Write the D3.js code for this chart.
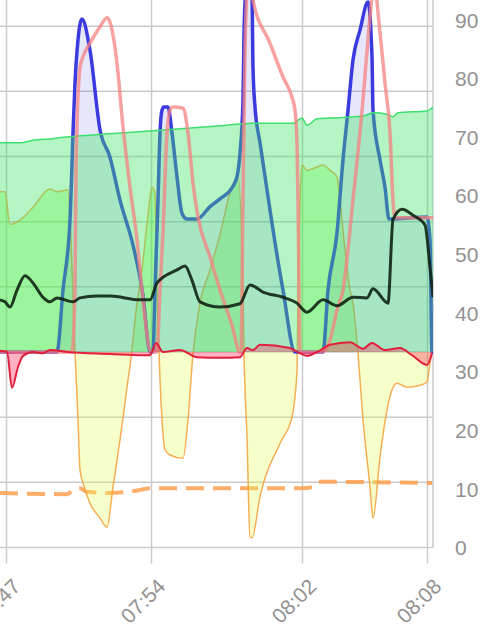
<!DOCTYPE html>
<html>
<head>
<meta charset="utf-8">
<script src="https://cdn.jsdelivr.net/npm/d3@7"></script>
<style>
  body { margin: 0; background: #fff; }
  svg { display: block; }
  .tick text { font-family: "Liberation Sans", Arial, Helvetica, sans-serif; font-size: 21px; fill: #929292; }
</style>
</head>
<body>
<svg id="chart" width="496" height="642"></svg>
<script>
// values, [time, value]
// left (hidden) scale for the filled series, right scale for the dashed one
var blueSeries = [
  ["07:46:42",0],["07:49:33",0],["07:49:51",9.5],["07:50:12",20.3],["07:50:21",33.6],["07:50:27",41.3],
  ["07:50:36",47.9],["07:50:48",51.1],["07:51:12",46.3],["07:51:42",34.1],["07:52:12",29.9],["07:52:42",23.3],
  ["07:53:21",16.4],["07:53:51",8.7],["07:54:12",0],["07:54:21",0],["07:54:27",9.5],["07:54:36",23.3],
  ["07:54:42",33.6],["07:54:48",37.1],["07:54:54",37.6],["07:55:06",37.6],["07:55:18",33.6],["07:55:33",26.9],
  ["07:55:48",21.3],["07:56:03",20.4],["07:56:33",20.4],["07:57:12",22.3],["07:57:42",23.5],["07:58:18",25.2],
  ["07:58:33",26.9],["07:58:42",30.5],["07:58:51",38.7],["07:58:54",49.0],["07:59:00",55.5],["07:59:12",56.3],
  ["07:59:18",54.8],["07:59:21",43.7],["07:59:27",37.6],["07:59:42",32.1],["08:00:12",21.8],["08:00:42",12.1],
  ["08:00:51",9.5],["08:01:27",0],["08:02:51",0],["08:03:06",9.5],["08:03:33",18.3],["08:03:51",29.5],
  ["08:04:06",37.1],["08:04:21",44.8],["08:04:42",49.4],["08:05:06",53.7],["08:05:18",45.3],["08:05:21",37.1],
  ["08:05:42",29.5],["08:05:57",25.3],["08:06:09",20.4],["08:08:03",20.7],["08:08:12",17.2],["08:08:18",0],
  ["08:08:21",0]
];

var pinkSeries = [
  ["07:46:42",0],["07:50:18",0],["07:50:27",9.5],["07:50:30",28.4],["07:50:42",43.7],["07:50:51",45.3],
  ["07:51:12",47.4],["07:51:42",49.9],["07:52:03",51.3],["07:52:12",50.6],["07:52:33",44.3],["07:52:51",34.5],
  ["07:53:12",25.3],["07:53:33",17.2],["07:53:48",9.5],["07:54:15",0],["07:54:33",0],["07:54:42",9.5],
  ["07:54:51",18.3],["07:55:03",33.6],["07:55:12",37.1],["07:55:21",37.6],["07:55:51",37.4],["07:56:06",33.6],
  ["07:56:21",25.9],["07:56:36",20.7],["07:57:12",14.6],["07:57:42",9.5],["07:58:18",4.1],["07:58:42",0],
  ["07:58:45",0],["07:58:51",23.3],["07:58:57",46.3],["07:59:06",57.1],["07:59:12",57.9],["07:59:21",54.0],
  ["08:00:12",47.4],["08:00:51",42.2],["08:01:18",39.1],["08:01:27",37.1],["08:01:33",32.1],["08:01:36",23.3],
  ["08:01:39",9.5],["08:01:42",0],["08:02:48",0],["08:03:12",1.8],["08:03:33",6.4],["08:03:51",9.5],
  ["08:04:21",23.3],["08:04:51",38.7],["08:05:12",51.4],["08:05:24",56.3],["08:05:42",49.0],["08:05:57",41.3],
  ["08:06:12",33.6],["08:06:21",23.3],["08:06:27",20.6],["08:08:21",20.6]
];

var greenSeries = [
  ["07:46:42",32.1],["07:47:42",32.1],["07:48:21",32.5],["07:49:12",32.7],["07:50:03",33.0],["07:52:12",33.5],
  ["07:54:12",33.9],["07:57:42",34.7],["07:59:21",35.1],["08:01:21",35.1],["08:01:48",35.9],["08:02:03",34.8],
  ["08:02:33",35.8],["08:03:12",35.9],["08:04:51",36.2],["08:05:21",36.7],["08:06:03",36.5],["08:06:21",36.1],
  ["08:06:36",36.7],["08:08:03",37.0],["08:08:21",37.6]
];

var yellowSeries = [
  ["07:46:42",24.6],["07:46:57",24.6],["07:47:12",19.6],["07:47:27",19.8],["07:47:51",20.6],["07:48:21",22.2],
  ["07:49:12",25.0],["07:49:33",24.6],["07:50:06",24.9],["07:50:15",17.2],["07:50:27",0],["07:50:36",-10.4],
  ["07:50:42",-18.1],["07:50:51",-20.1],["07:51:12",-23.2],["07:51:42",-25.5],["07:52:03",-26.9],["07:52:21",-20.7],
  ["07:52:42",-13.5],["07:53:03",-5.4],["07:53:18",0.3],["07:53:27",4.9],["07:53:51",14.1],["07:54:06",21.0],
  ["07:54:18",25.3],["07:54:27",24.4],["07:54:33",9.5],["07:54:39",0],["07:54:48",-10.4],["07:54:57",-15.0],
  ["07:55:12",-15.8],["07:55:51",-16.3],["07:56:06",-10.4],["07:56:21",-0.2],["07:56:42",7.5],["07:57:12",12.6],
  ["07:57:42",18.0],["07:58:12",24.4],["07:58:36",26.9],["07:58:51",9.5],["07:58:54",0],["07:59:03",-13.0],
  ["07:59:12",-28.4],["07:59:18",-28.5],["07:59:42",-22.2],["08:00:42",-14.0],["08:01:18",-10.0],["08:01:33",-2.8],
  ["08:01:36",9.5],["08:01:42",23.3],["08:01:48",28.7],["08:02:03",27.9],["08:02:33",28.4],["08:02:51",28.7],
  ["08:03:12",27.9],["08:03:33",26.9],["08:03:42",23.3],["08:03:57",15.7],["08:04:12",9.5],["08:04:21",7.5],
  ["08:04:36",-0.2],["08:04:51",-10.4],["08:05:12",-20.7],["08:05:21",-25.5],["08:05:42",-16.1],["08:06:03",-8.9],
  ["08:06:18",-5.8],["08:06:33",-4.8],["08:07:03",-5.4],["08:07:42",-5.1],["08:08:03",-4.6],["08:08:12",-1.7],
  ["08:08:18",0]
];

var blackSeries = [
  ["07:46:42",8.0],["07:46:57",7.7],["07:47:12",6.9],["07:47:33",9.5],["07:47:57",11.7],["07:48:21",10.6],
  ["07:48:51",8.4],["07:49:12",7.7],["07:49:33",8.3],["07:50:21",7.7],["07:50:42",8.3],["07:51:33",8.6],
  ["07:52:12",8.6],["07:53:42",8.0],["07:54:12",8.0],["07:54:33",10.6],["07:55:33",12.6],["07:55:57",13.2],
  ["07:56:18",11.0],["07:56:42",7.7],["07:57:42",6.9],["07:58:42",7.4],["07:59:12",10.3],["07:59:51",9.2],
  ["08:00:51",8.4],["08:01:33",7.5],["08:02:03",6.1],["08:02:51",8.0],["08:03:33",7.1],["08:04:21",8.4],
  ["08:05:03",8.3],["08:05:21",9.7],["08:06:06",7.5],["08:06:21",20.3],["08:06:48",21.9],["08:07:21",21.0],
  ["08:07:57",19.5],["08:08:12",13.0],["08:08:21",8.4]
];

var redSeries = [
  ["07:46:42",0.2],["07:47:03",0],["07:47:18",-5.5],["07:47:36",-2.3],["07:47:51",-0.6],["07:48:21",0],
  ["07:48:51",-0.2],["07:49:12",0.3],["07:50:03",0],["07:52:12",-0.3],["07:53:51",-0.5],["07:54:12",-0.5],
  ["07:54:30",1.4],["07:54:51",0],["07:55:42",0.3],["07:56:33",-0.8],["07:57:42",-0.9],["07:58:42",-0.8],
  ["07:59:03",0.6],["07:59:21",0.3],["07:59:42",1.1],["08:01:12",0.6],["08:01:42",-0.2],["08:02:03",-0.6],
  ["08:02:33",0],["08:03:12",1.1],["08:04:12",1.5],["08:04:51",0.5],["08:05:18",1.4],["08:05:57",0.3],
  ["08:06:42",0.6],["08:07:18",-0.5],["08:08:03",-2.0],["08:08:18",-0.2]
];

var dashedSeries = [
  ["07:46:42",9.3],["07:50:03",9.1],["07:50:27",10.0],["07:50:42",10.1],["07:51:03",9.5],["07:52:12",9.3],
  ["07:53:21",9.6],["07:54:15",10.1],["07:59:12",10.1],["08:01:48",10.1],["08:02:18",10.3],["08:02:36",11.2],
  ["08:08:18",11.0]
];

var xTicks = ["07:47:00", "07:54:15", "08:01:48", "08:08:03"];
var rightTicks = [0, 10, 20, 30, 40, 50, 60, 70, 80, 90];
var leftGrid = [-30, -20, -10, 0, 10, 20, 30, 40, 50, 60];

var parse = d3.timeParse("%H:%M:%S");
var fmt = d3.timeFormat("%H:%M");
var svg = d3.select("#chart");

var plotRight = 433, plotBottom = 547.5, plotTop = -39;

var x = d3.scaleTime()
    .domain([parse("07:46:42"), parse("08:08:21")])
    .range([0, plotRight]);
var yL = d3.scaleLinear().domain([-30, 60]).range([plotBottom, plotTop]);
var yR = d3.scaleLinear().domain([0, 100]).range([plotBottom, plotTop]);

function prep(arr) { return arr.map(function(d) { return {t: parse(d[0]), v: d[1]}; }); }

// grid
var grid = svg.append("g").attr("class", "grid");
grid.selectAll("line.h")
    .data(leftGrid)
    .enter().append("line")
    .attr("class", "h")
    .attr("x1", 0).attr("x2", plotRight)
    .attr("y1", function(d) { return yL(d); })
    .attr("y2", function(d) { return yL(d); })
    .attr("stroke", "#cbcbcb").attr("stroke-width", 1.5);

grid.append("line")
    .attr("x1", plotRight).attr("x2", plotRight)
    .attr("y1", 0).attr("y2", plotBottom)
    .attr("stroke", "#cbcbcb").attr("stroke-width", 1.5);

// x axis with long ticks acting as vertical grid
var xAxis = svg.append("g")
    .attr("transform", "translate(0," + plotBottom + ")")
    .call(d3.axisBottom(x)
        .tickValues(xTicks.map(parse))
        .tickSize(16)
        .tickFormat(function(d) { return fmt(d3.timeMinute.round(d)); }));
xAxis.select(".domain").remove();
xAxis.selectAll(".tick line")
    .attr("y1", -plotBottom)
    .attr("stroke", "#cbcbcb").attr("stroke-width", 1.5);
xAxis.selectAll(".tick text")
    .attr("x", 0).attr("y", 0).attr("dy", "0.35em")
    .attr("transform", "translate(10,35) rotate(-45)")
    .style("text-anchor", "end");

var rAxis = svg.append("g")
    .attr("transform", "translate(" + plotRight + ",0)")
    .call(d3.axisRight(yR).tickValues(rightTicks).tickSize(0).tickPadding(22));
rAxis.select(".domain").remove();
rAxis.selectAll(".tick text").attr("dy", "0.35em");

// clips
var defs = svg.append("defs");
defs.append("clipPath").attr("id", "plot")
    .append("rect").attr("x", 0).attr("y", plotTop).attr("width", plotRight).attr("height", plotBottom - plotTop);
defs.append("clipPath").attr("id", "above")
    .append("rect").attr("x", 0).attr("y", plotTop).attr("width", plotRight).attr("height", yL(0) - plotTop);
defs.append("clipPath").attr("id", "below")
    .append("rect").attr("x", 0).attr("y", yL(0)).attr("width", plotRight).attr("height", plotBottom - yL(0));

var plot = svg.append("g").attr("clip-path", "url(#plot)");

var lineL = d3.line().curve(d3.curveMonotoneX)
    .x(function(d) { return x(d.t); })
    .y(function(d) { return yL(d.v); });
var lineR = d3.line().curve(d3.curveMonotoneX)
    .x(function(d) { return x(d.t); })
    .y(function(d) { return yR(d.v); });
var areaL = d3.area().curve(d3.curveMonotoneX)
    .x(function(d) { return x(d.t); })
    .y0(yL(0))
    .y1(function(d) { return yL(d.v); });

// dashed line sits underneath
plot.append("path")
    .datum(prep(dashedSeries))
    .attr("d", lineR)
    .attr("fill", "none")
    .attr("stroke", "rgba(255,160,80,0.85)")
    .attr("stroke-width", 4)
    .attr("stroke-dasharray", "18,9");

// yellow series: green above zero, yellow below
var yellow = prep(yellowSeries);
plot.append("path").datum(yellow).attr("d", areaL)
    .attr("clip-path", "url(#above)")
    .attr("fill", "rgba(120,255,40,0.3)");
plot.append("path").datum(yellow).attr("d", areaL)
    .attr("clip-path", "url(#below)")
    .attr("fill", "rgba(225,255,80,0.3)");
plot.append("path").datum(yellow).attr("d", lineL)
    .attr("fill", "none")
    .attr("stroke", "rgba(245,160,60,0.85)")
    .attr("stroke-width", 1.5);

// blue
var blue = prep(blueSeries);
plot.append("path").datum(blue).attr("d", areaL)
    .attr("fill", "rgba(70,70,230,0.13)");
plot.append("path").datum(blue).attr("d", lineL)
    .attr("fill", "none")
    .attr("stroke", "rgb(58,58,222)")
    .attr("stroke-width", 3.5)
    .attr("stroke-linejoin", "round");

// green
var green = prep(greenSeries);
plot.append("path").datum(green).attr("d", areaL)
    .attr("fill", "rgba(60,230,100,0.38)");
plot.append("path").datum(green).attr("d", lineL)
    .attr("fill", "none")
    .attr("stroke", "#3ddf6e")
    .attr("stroke-width", 1.5);

// pink
plot.append("path").datum(prep(pinkSeries)).attr("d", lineL)
    .attr("fill", "none")
    .attr("stroke", "rgba(245,130,130,0.75)")
    .attr("stroke-width", 3.5)
    .attr("stroke-linejoin", "round");

// black
plot.append("path").datum(prep(blackSeries)).attr("d", lineL)
    .attr("fill", "none")
    .attr("stroke", "rgba(12,32,16,0.88)")
    .attr("stroke-width", 3)
    .attr("stroke-linejoin", "round");

// red
var red = prep(redSeries);
plot.append("path").datum(red).attr("d", areaL)
    .attr("fill", "rgba(255,60,100,0.4)");
plot.append("path").datum(red).attr("d", lineL)
    .attr("fill", "none")
    .attr("stroke", "#e0203c")
    .attr("stroke-width", 2);
</script>
</body>
</html>
